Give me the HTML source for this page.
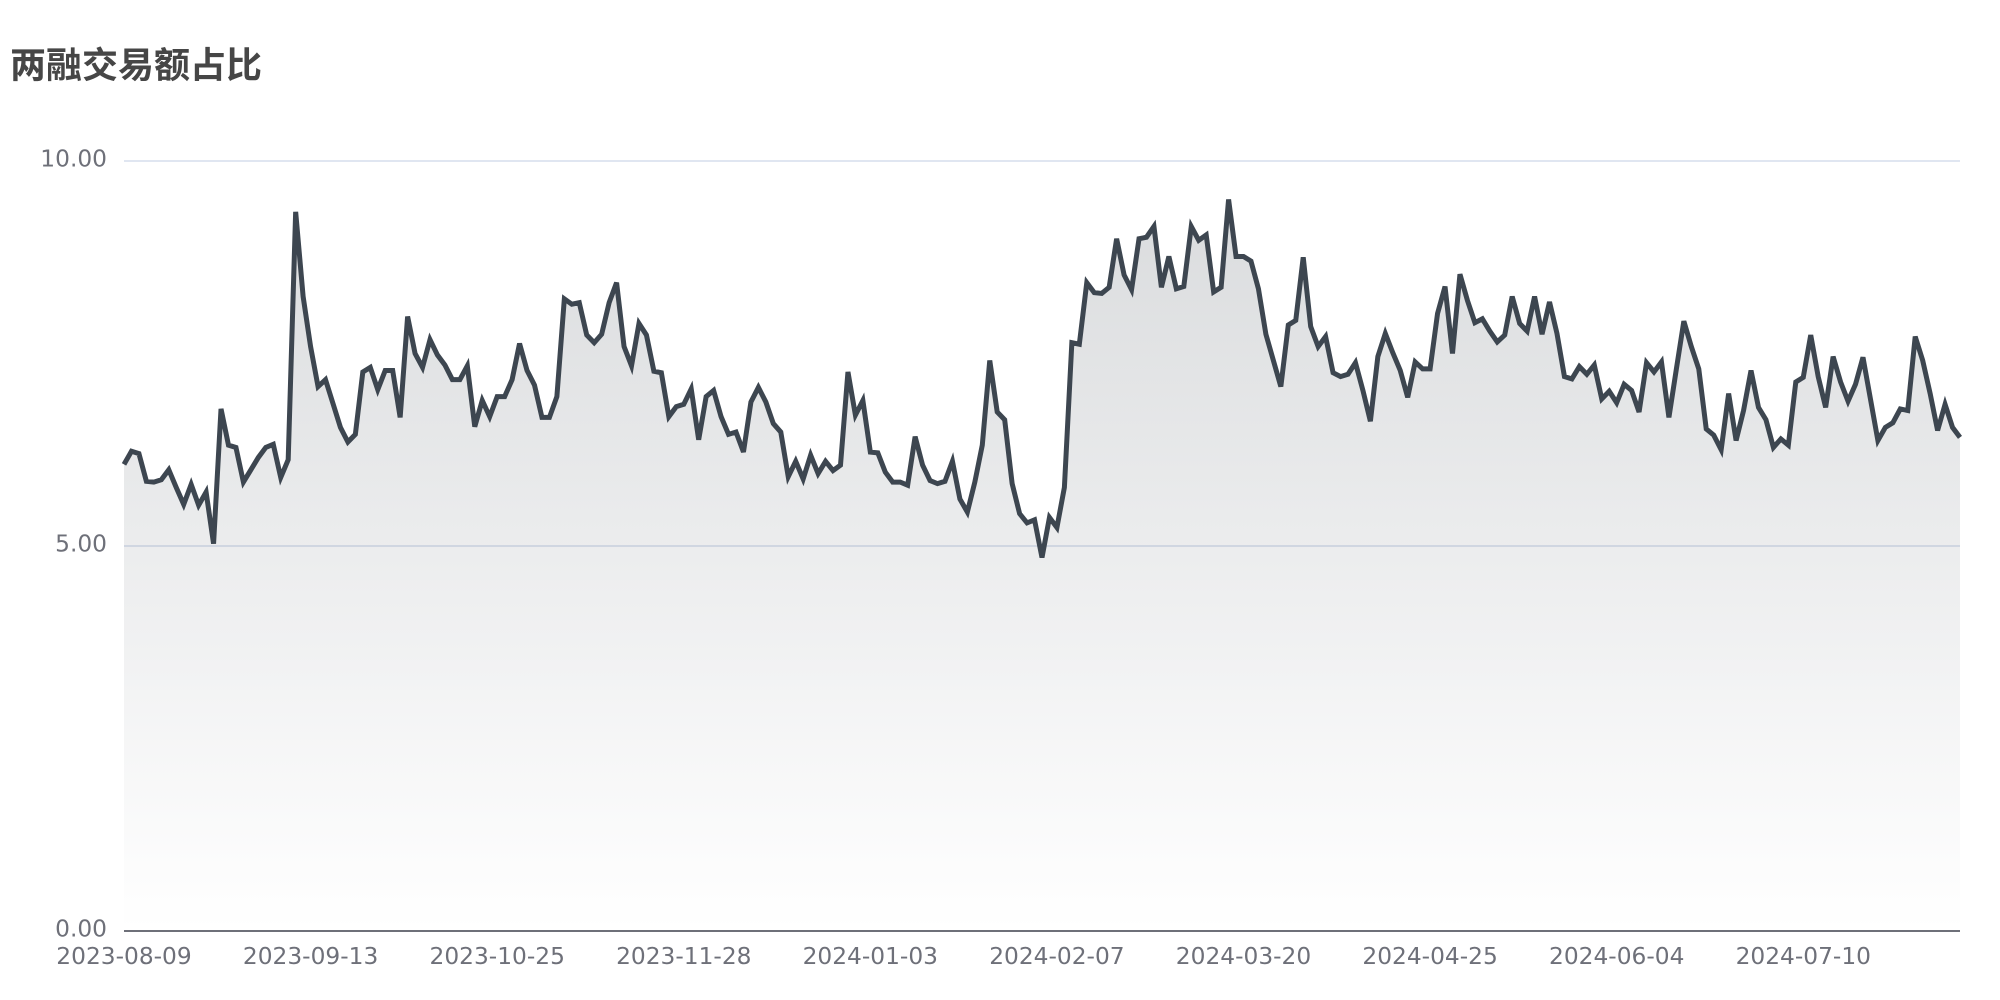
<!DOCTYPE html>
<html>
<head>
<meta charset="utf-8">
<style>
  html, body { margin: 0; padding: 0; background: #ffffff; }
  body { width: 2000px; height: 1000px; overflow: hidden; }
  svg { display: block; }
  .lbl { font-family: "DejaVu Sans", "Liberation Sans", sans-serif; font-size: 23.3px; fill: #6e7079; }
  .title { font-family: "Liberation Sans", "Noto Sans CJK SC", sans-serif; font-size: 36px; font-weight: bold; fill: #464646; }
</style>
</head>
<body>
<svg width="2000" height="1000" viewBox="0 0 2000 1000" xmlns="http://www.w3.org/2000/svg">
  <defs>
    <linearGradient id="g" x1="0" y1="1" x2="0" y2="0">
      <stop offset="0" stop-color="#3d4650" stop-opacity="0.19"/>
      <stop offset="1" stop-color="#3d4650" stop-opacity="0"/>
    </linearGradient>
  </defs>
  <rect x="0" y="0" width="2000" height="1000" fill="#ffffff"/>

  <text class="title" x="10" y="77.5">两融交易额占比</text>

  <!-- grid lines -->
  <line x1="124" y1="161" x2="1960" y2="161" stroke="#e0e6f1" stroke-width="2"/>
  <line x1="124" y1="546" x2="1960" y2="546" stroke="#e0e6f1" stroke-width="2"/>

  <!-- y labels -->
  <text class="lbl" x="107" y="166.5" text-anchor="end">10.00</text>
  <text class="lbl" x="107" y="551.5" text-anchor="end">5.00</text>
  <text class="lbl" x="107" y="936.5" text-anchor="end">0.00</text>

  <g transform="translate(124,931) scale(7.4634,-77)">
    <polygon fill="url(#g)" stroke="none" points="0,6.06 1,6.23 2,6.20 3,5.84 4,5.83 5,5.86 6,5.99 7,5.76 8,5.54 9,5.80 10,5.53 11,5.70 12,5.03 13,6.78 14,6.31 15,6.28 16,5.83 17,5.99 18,6.15 19,6.28 20,6.32 21,5.89 22,6.12 23,9.34 24,8.24 25,7.59 26,7.07 27,7.16 28,6.85 29,6.54 30,6.35 31,6.45 32,7.26 33,7.32 34,7.03 35,7.28 36,7.28 37,6.67 38,7.98 39,7.50 40,7.32 41,7.68 42,7.48 43,7.35 44,7.16 45,7.16 46,7.34 47,6.55 48,6.89 49,6.68 50,6.94 51,6.94 52,7.16 53,7.63 54,7.28 55,7.09 56,6.67 57,6.67 58,6.94 59,8.21 60,8.14 61,8.16 62,7.74 63,7.64 64,7.75 65,8.16 66,8.42 67,7.59 68,7.34 69,7.89 70,7.74 71,7.27 72,7.25 73,6.68 74,6.81 75,6.84 76,7.04 77,6.38 78,6.94 79,7.02 80,6.68 81,6.45 82,6.48 83,6.22 84,6.87 85,7.06 86,6.87 87,6.59 88,6.48 89,5.90 90,6.10 91,5.87 92,6.18 93,5.94 94,6.10 95,5.98 96,6.05 97,7.26 98,6.70 99,6.89 100,6.22 101,6.21 102,5.96 103,5.83 104,5.83 105,5.79 106,6.42 107,6.05 108,5.85 109,5.81 110,5.84 111,6.10 112,5.61 113,5.44 114,5.83 115,6.31 116,7.41 117,6.74 118,6.64 119,5.81 120,5.42 121,5.30 122,5.34 123,4.85 124,5.37 125,5.24 126,5.76 127,7.64 128,7.62 129,8.42 130,8.29 131,8.28 132,8.36 133,8.99 134,8.52 135,8.33 136,8.99 137,9.01 138,9.15 139,8.36 140,8.76 141,8.34 142,8.37 143,9.15 144,8.97 145,9.04 146,8.30 147,8.36 148,9.50 149,8.76 150,8.76 151,8.70 152,8.34 153,7.75 154,7.41 155,7.07 156,7.87 157,7.93 158,8.75 159,7.85 160,7.59 161,7.72 162,7.25 163,7.20 164,7.23 165,7.38 166,7.02 167,6.62 168,7.46 169,7.76 170,7.51 171,7.28 172,6.93 173,7.39 174,7.30 175,7.30 176,8.02 177,8.37 178,7.50 179,8.53 180,8.19 181,7.90 182,7.95 183,7.79 184,7.65 185,7.74 186,8.24 187,7.89 188,7.79 189,8.24 190,7.75 191,8.17 192,7.76 193,7.20 194,7.17 195,7.33 196,7.23 197,7.35 198,6.91 199,7.01 200,6.86 201,7.10 202,7.02 203,6.74 204,7.38 205,7.26 206,7.39 207,6.67 208,7.30 209,7.92 210,7.59 211,7.30 212,6.52 213,6.44 214,6.25 215,6.98 216,6.37 217,6.76 218,7.28 219,6.80 220,6.64 221,6.28 222,6.39 223,6.31 224,7.13 225,7.19 226,7.74 227,7.20 228,6.80 229,7.46 230,7.13 231,6.88 232,7.10 233,7.45 234,6.91 235,6.37 236,6.54 237,6.60 238,6.78 239,6.76 240,7.72 241,7.41 242,6.98 243,6.50 244,6.84 245,6.54 246,6.41 246,0 0,0"/>
    <polyline fill="none" stroke="#3d4650" stroke-width="5" vector-effect="non-scaling-stroke" stroke-linejoin="miter" points="0,6.06 1,6.23 2,6.20 3,5.84 4,5.83 5,5.86 6,5.99 7,5.76 8,5.54 9,5.80 10,5.53 11,5.70 12,5.03 13,6.78 14,6.31 15,6.28 16,5.83 17,5.99 18,6.15 19,6.28 20,6.32 21,5.89 22,6.12 23,9.34 24,8.24 25,7.59 26,7.07 27,7.16 28,6.85 29,6.54 30,6.35 31,6.45 32,7.26 33,7.32 34,7.03 35,7.28 36,7.28 37,6.67 38,7.98 39,7.50 40,7.32 41,7.68 42,7.48 43,7.35 44,7.16 45,7.16 46,7.34 47,6.55 48,6.89 49,6.68 50,6.94 51,6.94 52,7.16 53,7.63 54,7.28 55,7.09 56,6.67 57,6.67 58,6.94 59,8.21 60,8.14 61,8.16 62,7.74 63,7.64 64,7.75 65,8.16 66,8.42 67,7.59 68,7.34 69,7.89 70,7.74 71,7.27 72,7.25 73,6.68 74,6.81 75,6.84 76,7.04 77,6.38 78,6.94 79,7.02 80,6.68 81,6.45 82,6.48 83,6.22 84,6.87 85,7.06 86,6.87 87,6.59 88,6.48 89,5.90 90,6.10 91,5.87 92,6.18 93,5.94 94,6.10 95,5.98 96,6.05 97,7.26 98,6.70 99,6.89 100,6.22 101,6.21 102,5.96 103,5.83 104,5.83 105,5.79 106,6.42 107,6.05 108,5.85 109,5.81 110,5.84 111,6.10 112,5.61 113,5.44 114,5.83 115,6.31 116,7.41 117,6.74 118,6.64 119,5.81 120,5.42 121,5.30 122,5.34 123,4.85 124,5.37 125,5.24 126,5.76 127,7.64 128,7.62 129,8.42 130,8.29 131,8.28 132,8.36 133,8.99 134,8.52 135,8.33 136,8.99 137,9.01 138,9.15 139,8.36 140,8.76 141,8.34 142,8.37 143,9.15 144,8.97 145,9.04 146,8.30 147,8.36 148,9.50 149,8.76 150,8.76 151,8.70 152,8.34 153,7.75 154,7.41 155,7.07 156,7.87 157,7.93 158,8.75 159,7.85 160,7.59 161,7.72 162,7.25 163,7.20 164,7.23 165,7.38 166,7.02 167,6.62 168,7.46 169,7.76 170,7.51 171,7.28 172,6.93 173,7.39 174,7.30 175,7.30 176,8.02 177,8.37 178,7.50 179,8.53 180,8.19 181,7.90 182,7.95 183,7.79 184,7.65 185,7.74 186,8.24 187,7.89 188,7.79 189,8.24 190,7.75 191,8.17 192,7.76 193,7.20 194,7.17 195,7.33 196,7.23 197,7.35 198,6.91 199,7.01 200,6.86 201,7.10 202,7.02 203,6.74 204,7.38 205,7.26 206,7.39 207,6.67 208,7.30 209,7.92 210,7.59 211,7.30 212,6.52 213,6.44 214,6.25 215,6.98 216,6.37 217,6.76 218,7.28 219,6.80 220,6.64 221,6.28 222,6.39 223,6.31 224,7.13 225,7.19 226,7.74 227,7.20 228,6.80 229,7.46 230,7.13 231,6.88 232,7.10 233,7.45 234,6.91 235,6.37 236,6.54 237,6.60 238,6.78 239,6.76 240,7.72 241,7.41 242,6.98 243,6.50 244,6.84 245,6.54 246,6.41"/>
  </g>

  <!-- x axis line -->
  <line x1="124" y1="931" x2="1960" y2="931" stroke="#6e7079" stroke-width="2"/>

  <!-- x labels -->
  <text class="lbl" x="124" y="964" text-anchor="middle">2023-08-09</text>
  <text class="lbl" x="310.6" y="964" text-anchor="middle">2023-09-13</text>
  <text class="lbl" x="497.2" y="964" text-anchor="middle">2023-10-25</text>
  <text class="lbl" x="683.8" y="964" text-anchor="middle">2023-11-28</text>
  <text class="lbl" x="870.3" y="964" text-anchor="middle">2024-01-03</text>
  <text class="lbl" x="1056.9" y="964" text-anchor="middle">2024-02-07</text>
  <text class="lbl" x="1243.5" y="964" text-anchor="middle">2024-03-20</text>
  <text class="lbl" x="1430.1" y="964" text-anchor="middle">2024-04-25</text>
  <text class="lbl" x="1616.7" y="964" text-anchor="middle">2024-06-04</text>
  <text class="lbl" x="1803.3" y="964" text-anchor="middle">2024-07-10</text>
</svg>
</body>
</html>
